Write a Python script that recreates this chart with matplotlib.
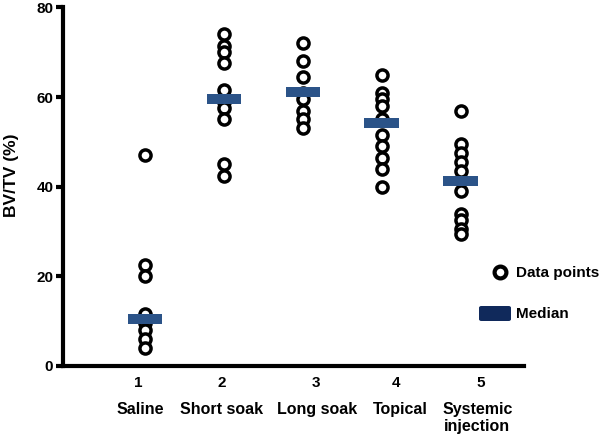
import matplotlib
matplotlib.use("Agg")
import matplotlib.pyplot as plt
from matplotlib.lines import Line2D
from matplotlib.patches import FancyBboxPatch

plt.rcParams['font.family'] = ['Liberation Sans', 'DejaVu Sans']
plt.rcParams['font.weight'] = 'bold'

# data
groups = ["Saline", "Short soak", "Long soak", "Topical", "Systemic\ninjection"]
positions = [1, 2, 3, 4, 5]
saline = [47, 22.5, 20, 11.5, 9.5, 8, 6, 4]
short_soak = [74, 71.5, 70, 67.5, 61.5, 59, 57.5, 55, 45, 42.5]
long_soak = [72, 68, 64.5, 61, 59.5, 57, 55, 53]
topical = [65, 61, 59.5, 58, 55, 51.5, 49, 46.5, 44, 40]
systemic = [57, 49.5, 47.5, 45.5, 43.5, 39, 34, 32.5, 30.5, 29.5]
medians = [10.5, 59.6, 61.2, 54.3, 41.2]
number_ticks = [0.92, 1.97, 3.16, 4.18, 5.25]
label_pos = [0.94, 1.97, 3.18, 4.23, 5.21]
yticks = [0, 20, 40, 60, 80]

all_points = [saline, short_soak, long_soak, topical, systemic]

fig = plt.figure(figsize=(6, 4.37), dpi=100)
ax = fig.add_axes([0.105, 0.1625, 0.768, 0.8205])

for x, pts in zip(positions, all_points):
    ax.plot([x] * len(pts), pts, 'o', ms=8, mfc='white', mec='black',
            mew=2.5, linestyle='none', zorder=2)

ax.bar(positions, 2.2, bottom=[m - 1.1 for m in medians], width=0.44,
       color='#2b5388', zorder=3)

ax.set_xlim(-0.04, 5.8)
ax.set_ylim(0, 80)
ax.set_yticks(yticks)
ax.set_xticks(number_ticks)
ax.set_xticklabels([str(p) for p in positions])
ax.tick_params(axis='x', length=0, pad=7, labelsize=11)
ax.tick_params(axis='y', length=5, width=3, pad=2, labelsize=11)
for lab in ax.get_xticklabels() + ax.get_yticklabels():
    lab.set_fontweight('bold')

for side in ['top', 'right']:
    ax.spines[side].set_visible(False)
for side in ['left', 'bottom']:
    ax.spines[side].set_linewidth(3)

for xp, g in zip(label_pos, groups):
    ax.text(xp, -8.0, g, ha='center', va='top', fontsize=11.5,
            fontweight='bold', linespacing=1.2, clip_on=False)

fig.text(0.02, 1 - 175 / 437, "BV/TV (%)", rotation=90, ha='center',
         va='center', fontsize=12.5, fontweight='bold')

# legend drawn by hand, outside the axes
W, H = 600, 437
fig.add_artist(Line2D([500 / W], [1 - 272 / H], marker='o', ms=8.5,
                      mfc='white', mec='black', mew=3, linestyle='none'))
fig.text(516 / W, 1 - 273 / H, "Data points", ha='left', va='center',
         fontsize=11, fontweight='bold')
fig.add_artist(FancyBboxPatch((479 / W, 1 - 321 / H), 32 / W, 15 / H,
                              boxstyle="round,pad=0,rounding_size=0.004",
                              fc='#10295b', ec='none'))
fig.text(516 / W, 1 - 314 / H, "Median", ha='left', va='center',
         fontsize=11, fontweight='bold')

fig.savefig("out.png", dpi=100)
